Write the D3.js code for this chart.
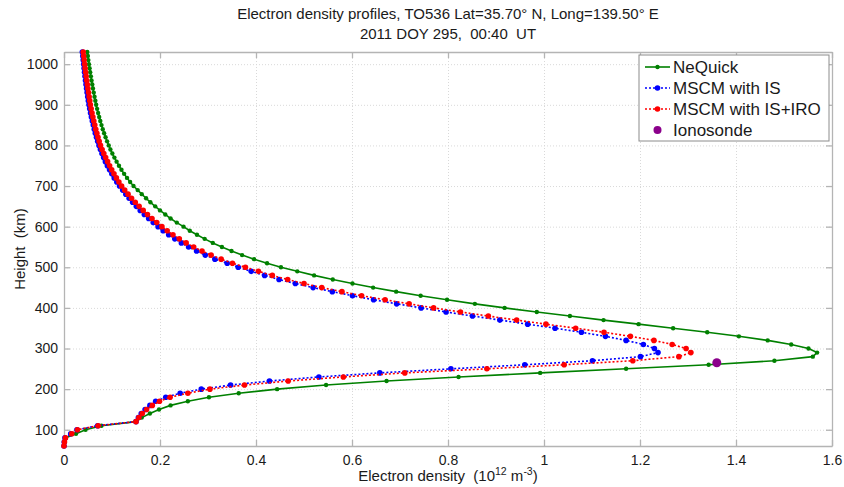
<html lang="en">
<head>
<meta charset="UTF-8">
<title>Electron density profiles</title>
<style>
  body { margin: 0; background: #fff; }
  text { font-family: "Liberation Sans", Arial, sans-serif; fill: #1a1a1a; }
  .grid line { stroke: #d9d9d9; stroke-dasharray: 1,2; }
  .grid path { display: none; }
  .frame path, .frame line { stroke: #b4b4b4; stroke-width: 1.3px; }
</style>
</head>
<body>
<div id="chart"></div>
<script src="https://d3js.org/d3.v7.min.js"></script>
<script>
// heights (km), shared by the three profiles
const heights = [1030, 1020, 1010, 1000, 990, 980, 970, 960, 950, 940, 930, 920, 910, 900,
  890, 880, 870, 860, 850, 840, 830, 820, 810, 800, 790, 780, 770, 760, 750, 740, 730, 720, 710, 700,
  690, 680, 670, 660, 650, 640, 630, 620, 610, 600, 590, 580, 570, 560, 550, 540, 530, 520, 510, 500,
  490, 480, 470, 460, 450, 440, 430, 420, 410, 400, 390, 380, 370, 360, 350, 340, 330, 320, 310, 300,
  290, 280, 270, 260, 250, 240, 230, 220, 210, 200, 190, 180, 170, 160, 150, 140, 130, 120, 110, 100,
  90, 80, 70, 60];

// electron density, 10^12 m^-3
const neQuick = [0.0485, 0.0497, 0.0508, 0.0520, 0.0533, 0.0546, 0.0560, 0.0574, 0.0589, 0.0604, 0.0620, 0.0636, 0.0653, 0.0670,
  0.0690, 0.0711, 0.0733, 0.0756, 0.0781, 0.0808, 0.0836, 0.0866, 0.0898, 0.0932, 0.0967, 0.1007, 0.1050, 0.1096, 0.1145, 0.1197, 0.1253, 0.1313, 0.1378, 0.1448,
  0.1535, 0.1620, 0.1710, 0.1800, 0.1900, 0.2000, 0.2110, 0.2220, 0.2350, 0.2490, 0.2620, 0.2770, 0.2930, 0.3100, 0.3290, 0.3490, 0.3710, 0.3960, 0.4230, 0.4520,
  0.4860, 0.5210, 0.5600, 0.6010, 0.6440, 0.6920, 0.7430, 0.7980, 0.8560, 0.9180, 0.9850, 1.0540, 1.1240, 1.1970, 1.2690, 1.3400, 1.4060, 1.4660, 1.5150, 1.5510,
  1.5690, 1.5600, 1.4800, 1.3430, 1.1710, 0.9920, 0.8220, 0.6720, 0.5460, 0.4440, 0.3640, 0.3020, 0.2580, 0.2220, 0.1980, 0.1790, 0.1620, 0.1500, 0.0780, 0.0450,
  0.0250, 0.0040, 0.0010, 0.0000];

const mscmIS = [0.0382, 0.0391, 0.0400, 0.0410, 0.0419, 0.0428, 0.0438, 0.0448, 0.0459, 0.0470, 0.0482, 0.0494, 0.0507, 0.0520,
  0.0536, 0.0553, 0.0571, 0.0590, 0.0610, 0.0631, 0.0653, 0.0677, 0.0702, 0.0729, 0.0759, 0.0791, 0.0826, 0.0863, 0.0904, 0.0950, 0.0996, 0.1046, 0.1100, 0.1157,
  0.1222, 0.1288, 0.1357, 0.1430, 0.1507, 0.1588, 0.1674, 0.1764, 0.1859, 0.1960, 0.2066, 0.2181, 0.2308, 0.2445, 0.2596, 0.2762, 0.2943, 0.3144, 0.3400, 0.3630,
  0.3900, 0.4180, 0.4480, 0.4820, 0.5190, 0.5590, 0.6010, 0.6450, 0.6930, 0.7440, 0.7960, 0.8510, 0.9080, 0.9660, 1.0230, 1.0780, 1.1280, 1.1710, 1.2070, 1.2300,
  1.2375, 1.2010, 1.1010, 0.9600, 0.8060, 0.6580, 0.5310, 0.4280, 0.3470, 0.2860, 0.2420, 0.2120, 0.1910, 0.1790, 0.1690, 0.1610, 0.1550, 0.1500, 0.0700, 0.0270,
  0.0140, 0.0020, 0.0005, 0.0000];

const mscmISIRO = [0.0400, 0.0410, 0.0420, 0.0430, 0.0440, 0.0451, 0.0462, 0.0474, 0.0486, 0.0498, 0.0511, 0.0524, 0.0537, 0.0550,
  0.0566, 0.0584, 0.0602, 0.0621, 0.0641, 0.0662, 0.0685, 0.0708, 0.0733, 0.0760, 0.0794, 0.0830, 0.0868, 0.0908, 0.0950, 0.0994, 0.1041, 0.1091, 0.1144, 0.1200,
  0.1265, 0.1334, 0.1407, 0.1484, 0.1565, 0.1650, 0.1739, 0.1833, 0.1933, 0.2040, 0.2150, 0.2270, 0.2402, 0.2545, 0.2702, 0.2875, 0.3065, 0.3274, 0.3510, 0.3780,
  0.4050, 0.4340, 0.4660, 0.5000, 0.5370, 0.5790, 0.6200, 0.6690, 0.7190, 0.7700, 0.8260, 0.8840, 0.9430, 1.0040, 1.0660, 1.1250, 1.1800, 1.2290, 1.2670, 1.2960,
  1.3060, 1.2810, 1.1850, 1.0420, 0.8810, 0.7100, 0.5820, 0.4670, 0.3760, 0.3040, 0.2580, 0.2210, 0.1990, 0.1840, 0.1720, 0.1630, 0.1560, 0.1500, 0.0710, 0.0280,
  0.0160, 0.0030, 0.0010, 0.0000];

const ionoDensity = [1.36];
const ionoHeight = [265];

const xTicks = [0, 0.2, 0.4, 0.6, 0.8, 1, 1.2, 1.4, 1.6];
const yTicks = [100, 200, 300, 400, 500, 600, 700, 800, 900, 1000];
const seriesNames = ["NeQuick", "MSCM with IS", "MSCM with IS+IRO", "Ionosonde"];

const W = 844, H = 487;
const margin = {top: 52, right: 12, bottom: 41, left: 64};
const width = W - margin.left - margin.right,
      height = H - margin.top - margin.bottom;

const svg = d3.select("#chart").append("svg")
  .attr("width", W).attr("height", H);

const g = svg.append("g")
  .attr("transform", `translate(${margin.left},${margin.top})`);

const x = d3.scaleLinear().domain([0, 1.6]).range([0, width]);
const y = d3.scaleLinear().domain([60, 1030]).range([height, 0]);

// grid
g.append("g").attr("class", "grid")
  .attr("transform", `translate(0,${height})`)
  .call(d3.axisBottom(x).tickValues(xTicks).tickSize(-height).tickFormat(""));
g.append("g").attr("class", "grid")
  .call(d3.axisLeft(y).tickValues(yTicks).tickSize(-width).tickFormat(""));

// frame with inward ticks
const fmt = d => String(+d.toFixed(1));
g.append("g").attr("class", "frame")
  .attr("transform", `translate(0,${height})`)
  .call(d3.axisBottom(x).tickValues(xTicks).tickSizeInner(-6).tickSizeOuter(0).tickPadding(9).tickFormat(fmt));
g.append("g").attr("class", "frame")
  .call(d3.axisTop(x).tickValues(xTicks).tickSizeInner(-6).tickSizeOuter(0).tickFormat(""));
g.append("g").attr("class", "frame")
  .call(d3.axisLeft(y).tickValues(yTicks).tickSizeInner(-6).tickSizeOuter(0).tickPadding(6).tickFormat(d3.format("d")));
g.append("g").attr("class", "frame")
  .attr("transform", `translate(${width},0)`)
  .call(d3.axisRight(y).tickValues(yTicks).tickSizeInner(-6).tickSizeOuter(0).tickFormat(""));
g.selectAll(".frame text").style("font-size", "14px").attr("fill", "#1a1a1a");

// profiles
const series = [
  {name: seriesNames[0], values: neQuick, color: "#008000", dash: null, r: 2.2, w: 1.6},
  {name: seriesNames[1], values: mscmIS, color: "#0000ff", dash: "2,2", r: 2.8, w: 1.6},
  {name: seriesNames[2], values: mscmISIRO, color: "#ff0000", dash: "2,2", r: 2.8, w: 1.6}
];

const line = d3.line()
  .x(d => x(d[0]))
  .y(d => y(d[1]));

series.forEach(s => {
  const pts = s.values.map((v, i) => [v, heights[i]]);
  g.append("path")
    .datum(pts)
    .attr("fill", "none")
    .attr("stroke", s.color)
    .attr("stroke-width", s.w)
    .attr("stroke-dasharray", s.dash)
    .attr("d", line);
  g.append("g").selectAll("circle")
    .data(pts)
    .join("circle")
    .attr("cx", d => x(d[0]))
    .attr("cy", d => y(d[1]))
    .attr("r", s.r)
    .attr("fill", s.color);
});

g.append("g").selectAll("circle")
  .data(ionoDensity.map((v, i) => [v, ionoHeight[i]]))
  .join("circle")
  .attr("cx", d => x(d[0]))
  .attr("cy", d => y(d[1]))
  .attr("r", 4.5)
  .attr("fill", "#8b008b");

// title
svg.append("text")
  .attr("x", margin.left + width / 2).attr("y", 19)
  .attr("text-anchor", "middle").style("font-size", "15px")
  .text("Electron density profiles, TO536 Lat=35.70° N, Long=139.50° E");
svg.append("text")
  .attr("x", margin.left + width / 2).attr("y", 39)
  .attr("text-anchor", "middle").style("font-size", "15px")
  .attr("xml:space", "preserve")
  .text("2011 DOY 295,  00:40  UT");

// axis labels
const xl = svg.append("text")
  .attr("x", margin.left + width / 2).attr("y", 481)
  .attr("text-anchor", "middle").style("font-size", "15px")
  .attr("xml:space", "preserve");
xl.append("tspan").text("Electron density  (10");
xl.append("tspan").attr("dy", -6).style("font-size", "10.5px").text("12");
xl.append("tspan").attr("dy", 6).text(" m");
xl.append("tspan").attr("dy", -6).style("font-size", "10.5px").text("-3");
xl.append("tspan").attr("dy", 6).text(")");

svg.append("text")
  .attr("transform", `translate(25,${margin.top + height / 2}) rotate(-90)`)
  .attr("text-anchor", "middle").style("font-size", "15px")
  .attr("xml:space", "preserve")
  .text("Height  (km)");

// legend
const lg = svg.append("g").attr("transform", "translate(639,55)");
lg.append("rect")
  .attr("width", 190).attr("height", 86)
  .attr("fill", "#fff").attr("stroke", "#8c8c8c").attr("stroke-width", 1);
const legendRows = [
  {name: seriesNames[0], color: "#008000", dash: null, r: 2.2, line: true},
  {name: seriesNames[1], color: "#0000ff", dash: "2,2", r: 2.8, line: true},
  {name: seriesNames[2], color: "#ff0000", dash: "2,2", r: 2.8, line: true},
  {name: seriesNames[3], color: "#8b008b", dash: null, r: 4, line: false}
];
const rowY = d3.scalePoint().domain(legendRows.map(d => d.name)).range([12, 75]);
const rows = lg.selectAll("g.row").data(legendRows).join("g")
  .attr("class", "row")
  .attr("transform", d => `translate(0,${rowY(d.name)})`);
rows.filter(d => d.line).append("line")
  .attr("x1", 6).attr("x2", 31)
  .attr("stroke", d => d.color).attr("stroke-width", 1.6)
  .attr("stroke-dasharray", d => d.dash);
rows.append("circle")
  .attr("cx", 18.5).attr("r", d => d.r).attr("fill", d => d.color);
rows.append("text")
  .attr("x", 34).attr("dy", "0.35em")
  .style("font-size", "17px")
  .text(d => d.name);
</script>
</body>
</html>
